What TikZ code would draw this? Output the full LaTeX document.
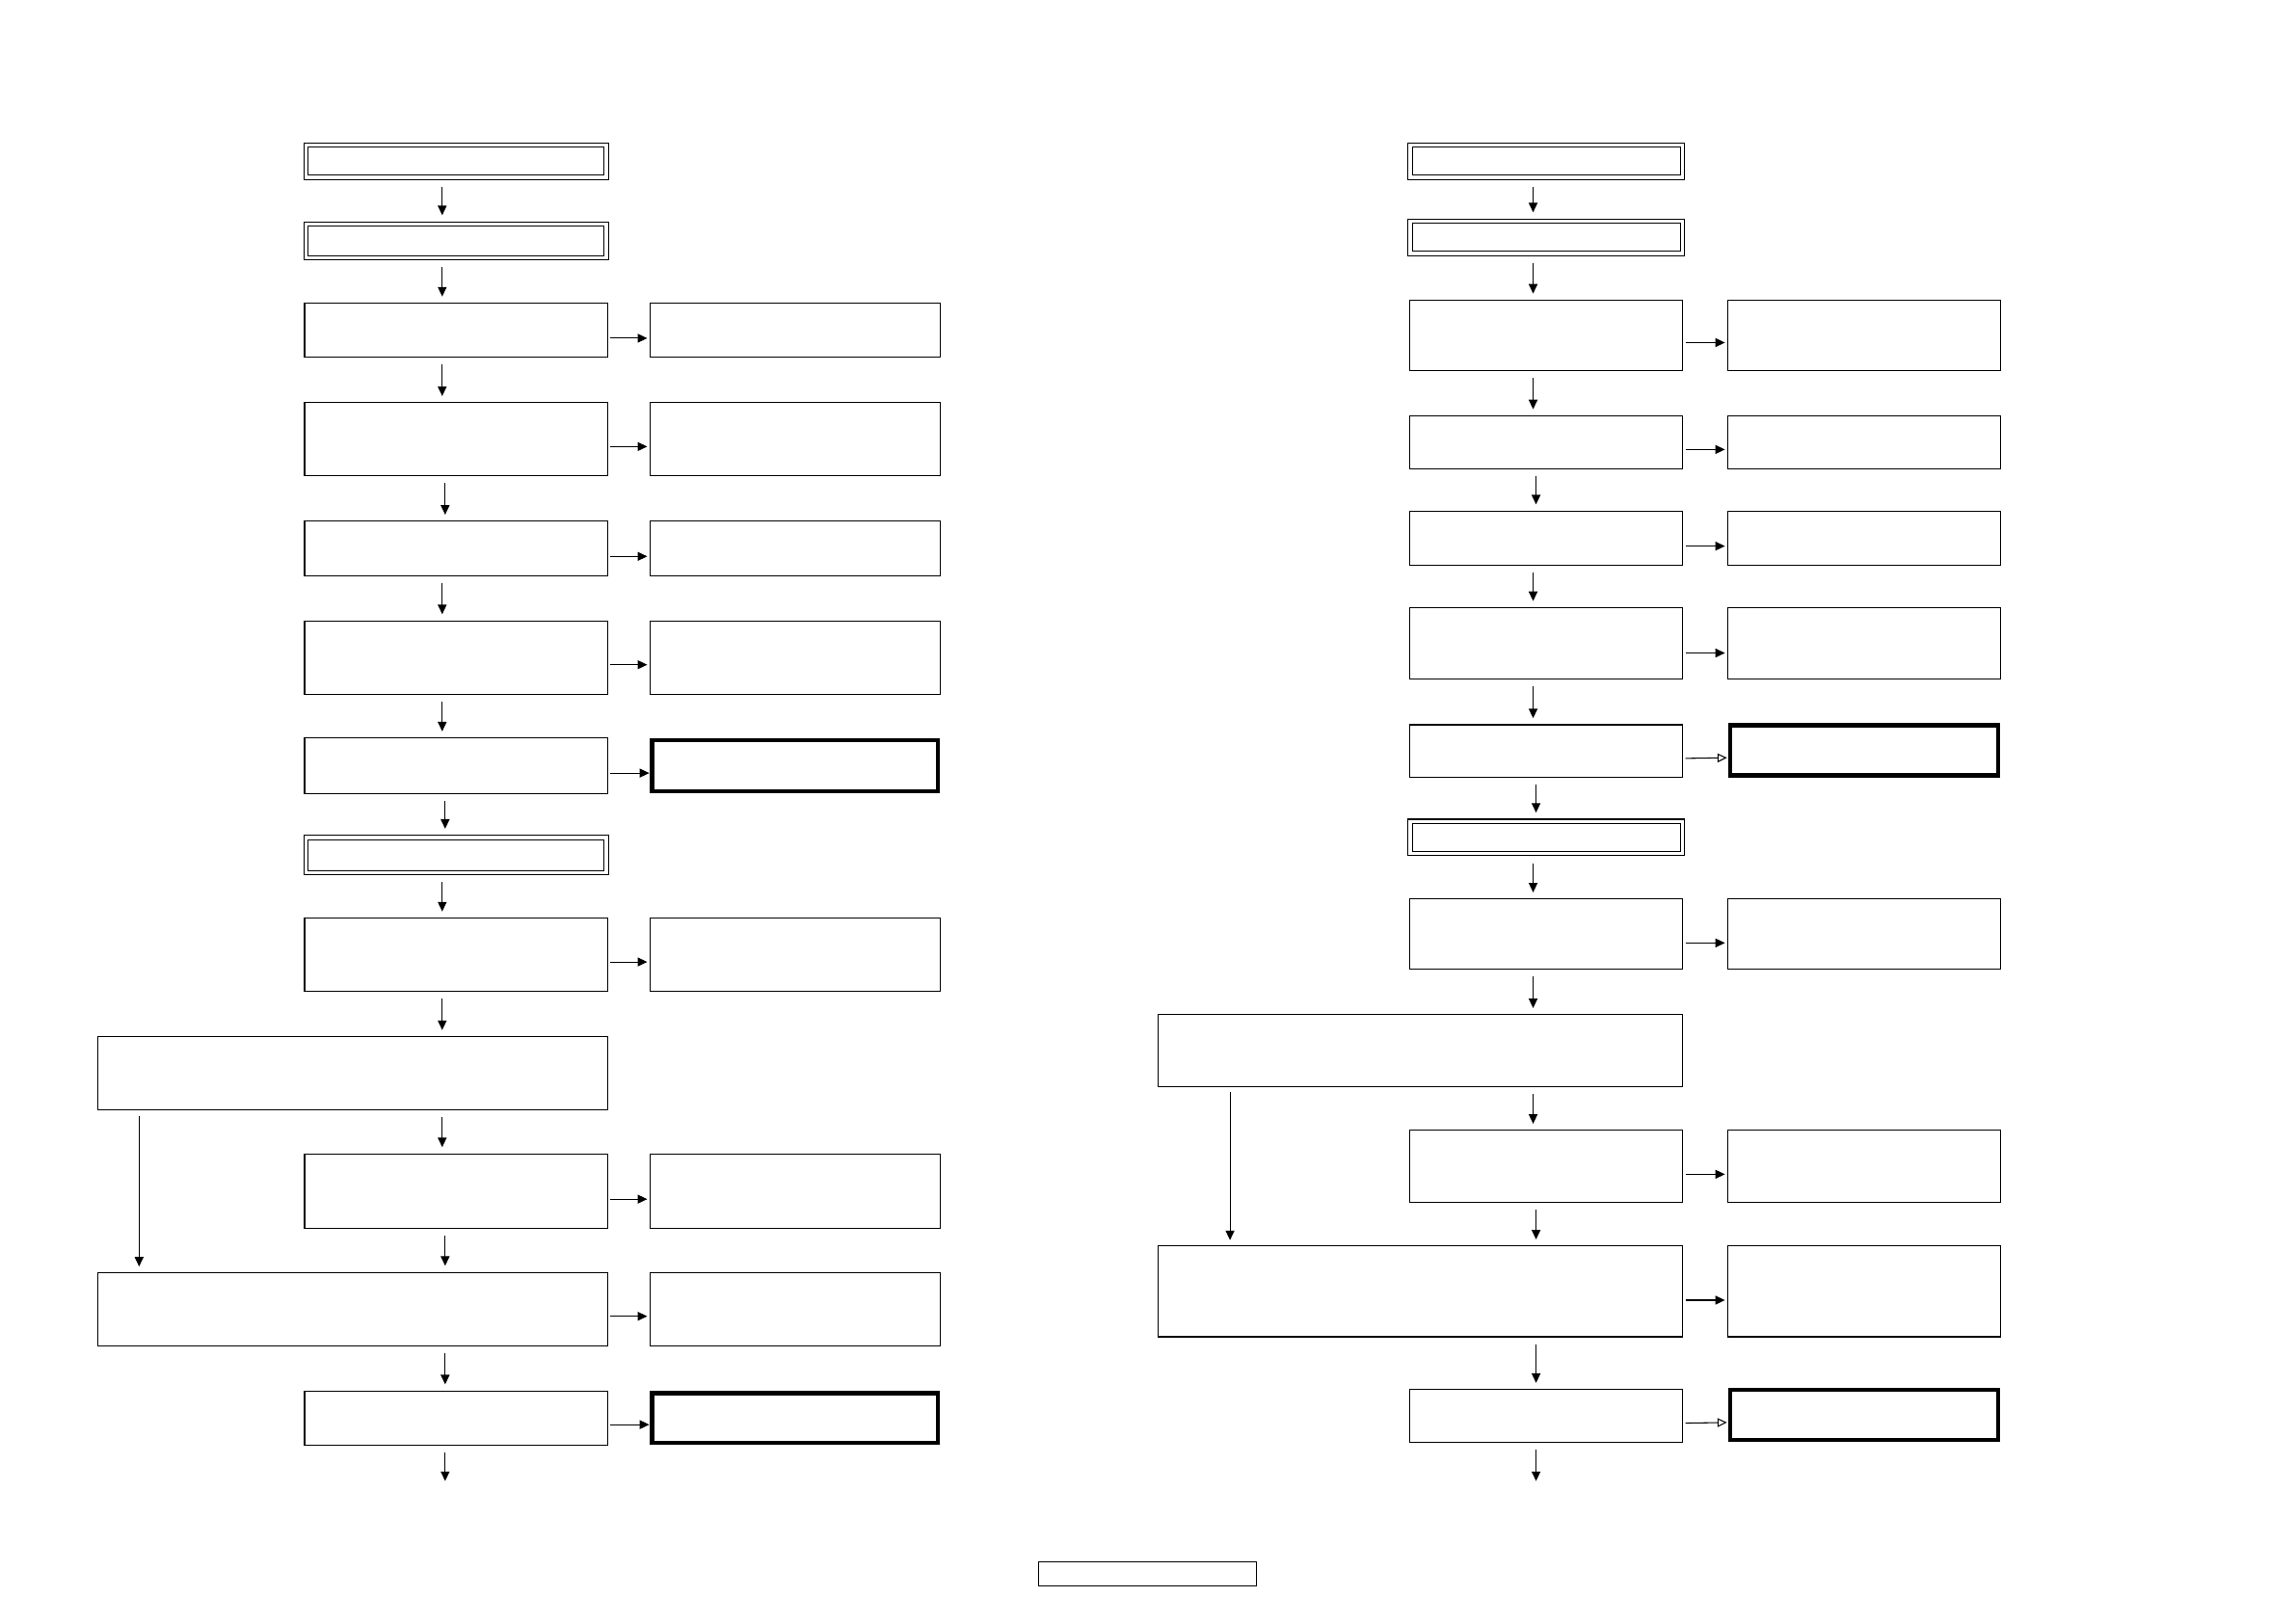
\documentclass[tikz,border=0pt]{standalone}
\usetikzlibrary{fit,arrows.meta}
\begin{document}
\begin{tikzpicture}[x=1pt,y=-1pt,
  box/.style={draw,line width=0.7pt,inner sep=0pt,outer sep=0pt},
  thickbox/.style={draw,line width=2.9pt,inner sep=0pt,outer sep=0pt},
  dbox/.style={draw,line width=0.7pt,inner sep=0pt,outer sep=0pt},
  varr/.style={line width=0.7pt,-{Triangle[length=6.5pt,width=6pt]},shorten <=5pt,shorten >=4.5pt},
  harr/.style={line width=0.7pt,-{Triangle[length=6.5pt,width=6pt]},shorten <=2pt,shorten >=2pt},
  oarr/.style={line width=0.7pt,-{Triangle[open,length=6.5pt,width=6pt]},shorten <=2pt,shorten >=2pt},
  larr/.style={line width=0.7pt,-{Triangle[length=6.5pt,width=6pt]},shorten <=4pt,shorten >=4pt}]
\useasboundingbox (0,0) rectangle (1568,1109);
\fill[white] (0,0) rectangle (1568,1109);

% ---------- left column ----------
\node[dbox,fit={(207.5,97.5) (415.5,122.5)}] (L1) {};
\draw[line width=0.7pt] ([shift={(3,3)}]L1.north west) rectangle ([shift={(-3,-3)}]L1.south east);
\node[dbox,fit={(207.5,151.5) (415.5,177.5)}] (L2) {};
\draw[line width=0.7pt] ([shift={(3,3)}]L2.north west) rectangle ([shift={(-3,-3)}]L2.south east);
\node[box,fit={(208,207) (415,244)}] (L3) {};
\node[box,fit={(444,207) (642,244)}] (R3) {};
\node[box,fit={(208,275) (415,325)}] (L4) {};
\node[box,fit={(444,275) (642,325)}] (R4) {};
\node[box,fit={(208,356) (415,393)}] (L5) {};
\node[box,fit={(444,356) (642,393)}] (R5) {};
\node[box,fit={(208,424) (415,474)}] (L6) {};
\node[box,fit={(444,424) (642,474)}] (R6) {};
\node[box,fit={(208,504) (415,542)}] (L7) {};
\node[thickbox,fit={(445.4,505.4) (640.6,540.6)}] (R7) {};
\node[dbox,fit={(207.5,570.5) (415.5,597.5)}] (L8) {};
\draw[line width=0.7pt] ([shift={(3,3)}]L8.north west) rectangle ([shift={(-3,-3)}]L8.south east);
\node[box,fit={(208,627) (415,677)}] (L9) {};
\node[box,fit={(444,627) (642,677)}] (R9) {};
\node[box,fit={(67,708) (415,758)}] (LW1) {};
\node[box,fit={(208,788) (415,839)}] (L10) {};
\node[box,fit={(444,788) (642,839)}] (R10) {};
\node[box,fit={(67,869) (415,919)}] (LW2) {};
\node[box,fit={(444,869) (642,919)}] (R11) {};
\node[box,fit={(208,950) (415,987)}] (L12) {};
\node[thickbox,fit={(445.4,951.4) (640.6,985.6)}] (R12) {};
\coordinate (Lend) at (304,1016);

\coordinate (La) at (302,0);
\coordinate (Lb) at (304,0);
\coordinate (Lz) at (95,0);

\draw[varr] (La |- L1.south) -- (La |- L2.north);
\draw[varr] (La |- L2.south) -- (La |- L3.north);
\draw[varr] (La |- L3.south) -- (La |- L4.north);
\draw[varr] (Lb |- L4.south) -- (Lb |- L5.north);
\draw[varr] (La |- L5.south) -- (La |- L6.north);
\draw[varr] (La |- L6.south) -- (La |- L7.north);
\draw[varr] (Lb |- L7.south) -- (Lb |- L8.north);
\draw[varr] (La |- L8.south) -- (La |- L9.north);
\draw[varr] (La |- L9.south) -- (La |- LW1.north);
\draw[varr] (La |- LW1.south) -- (La |- L10.north);
\draw[varr] (Lb |- L10.south) -- (Lb |- LW2.north);
\draw[varr] (Lb |- LW2.south) -- (Lb |- L12.north);
\draw[varr] (Lb |- L12.south) -- (Lend);
\draw[larr] (Lz |- LW1.south) -- (Lz |- LW2.north);

\draw[harr] ([yshift=-5.5pt]L3.east) -- ([yshift=-5.5pt]R3.west);
\draw[harr] ([yshift=-5pt]L4.east) -- ([yshift=-5pt]R4.west);
\draw[harr] ([yshift=-5.5pt]L5.east) -- ([yshift=-5.5pt]R5.west);
\draw[harr] ([yshift=-5pt]L6.east) -- ([yshift=-5pt]R6.west);
\draw[harr] ([yshift=-5pt]L7.east) -- ([yshift=-5pt]R7.west);
\draw[harr] ([yshift=-5pt]L9.east) -- ([yshift=-5pt]R9.west);
\draw[harr] ([yshift=-5.5pt]L10.east) -- ([yshift=-5.5pt]R10.west);
\draw[harr] ([yshift=-5pt]LW2.east) -- ([yshift=-5pt]R11.west);
\draw[harr] ([yshift=-4.5pt]L12.east) -- ([yshift=-4.5pt]R12.west);

% ---------- right column ----------
\node[dbox,fit={(961.5,97.5) (1150.5,122.5)}] (M1) {};
\draw[line width=0.7pt] ([shift={(3,3)}]M1.north west) rectangle ([shift={(-3,-3)}]M1.south east);
\node[dbox,fit={(961.5,149.5) (1150.5,174.5)}] (M2) {};
\draw[line width=0.7pt] ([shift={(3,3)}]M2.north west) rectangle ([shift={(-3,-3)}]M2.south east);
\node[box,fit={(963,205) (1149,253)}] (M3) {};
\node[box,fit={(1180,205) (1366,253)}] (S3) {};
\node[box,fit={(963,284) (1149,320)}] (M4) {};
\node[box,fit={(1180,284) (1366,320)}] (S4) {};
\node[box,fit={(963,349) (1149,386)}] (M5) {};
\node[box,fit={(1180,349) (1366,386)}] (S5) {};
\node[box,fit={(963,415) (1149,464)}] (M6) {};
\node[box,fit={(1180,415) (1366,464)}] (S6) {};
\node[box,fit={(963,495) (1149,531)}] (M7) {};
\node[thickbox,fit={(1181.4,495.4) (1364.6,529.6)}] (S7) {};
\node[dbox,fit={(961.5,559.5) (1150.5,584.5)}] (M8) {};
\draw[line width=0.7pt] ([shift={(3,3)}]M8.north west) rectangle ([shift={(-3,-3)}]M8.south east);
\node[box,fit={(963,614) (1149,662)}] (M9) {};
\node[box,fit={(1180,614) (1366,662)}] (S9) {};
\node[box,fit={(791,693) (1149,742)}] (MW1) {};
\node[box,fit={(963,772) (1149,821)}] (M10) {};
\node[box,fit={(1180,772) (1366,821)}] (S10) {};
\node[box,fit={(791,851) (1149,913)}] (MW2) {};
\node[box,fit={(1180,851) (1366,913)}] (S11) {};
\node[box,fit={(963,949) (1149,985)}] (M12) {};
\node[thickbox,fit={(1181.4,949.4) (1364.6,983.6)}] (S12) {};
\coordinate (Mend) at (1049,1016);

\coordinate (Ma) at (1047,0);
\coordinate (Mb) at (1049,0);
\coordinate (Mz) at (840,0);

\draw[varr] (Ma |- M1.south) -- (Ma |- M2.north);
\draw[varr] (Ma |- M2.south) -- (Ma |- M3.north);
\draw[varr] (Ma |- M3.south) -- (Ma |- M4.north);
\draw[varr] (Mb |- M4.south) -- (Mb |- M5.north);
\draw[varr] (Ma |- M5.south) -- (Ma |- M6.north);
\draw[varr] (Ma |- M6.south) -- (Ma |- M7.north);
\draw[varr] (Mb |- M7.south) -- (Mb |- M8.north);
\draw[varr] (Ma |- M8.south) -- (Ma |- M9.north);
\draw[varr] (Ma |- M9.south) -- (Ma |- MW1.north);
\draw[varr] (Ma |- MW1.south) -- (Ma |- M10.north);
\draw[varr] (Mb |- M10.south) -- (Mb |- MW2.north);
\draw[varr] (Mb |- MW2.south) -- (Mb |- M12.north);
\draw[varr] (Mb |- M12.south) -- (Mend);
\draw[larr] (Mz |- MW1.south) -- (Mz |- MW2.north);

\draw[harr] ([yshift=-5pt]M3.east) -- ([yshift=-5pt]S3.west);
\draw[harr] ([yshift=-5pt]M4.east) -- ([yshift=-5pt]S4.west);
\draw[harr] ([yshift=-5.5pt]M5.east) -- ([yshift=-5.5pt]S5.west);
\draw[harr] ([yshift=-6.5pt]M6.east) -- ([yshift=-6.5pt]S6.west);
\draw[oarr] ([yshift=-5pt]M7.east) -- ([yshift=-5pt]S7.west);
\draw[harr] ([yshift=-6pt]M9.east) -- ([yshift=-6pt]S9.west);
\draw[harr] ([yshift=-5.5pt]M10.east) -- ([yshift=-5.5pt]S10.west);
\draw[harr] ([yshift=-6pt]MW2.east) -- ([yshift=-6pt]S11.west);
\draw[oarr] ([yshift=-5pt]M12.east) -- ([yshift=-5pt]S12.west);

% ---------- page box ----------
\node[box,fit={(709,1067) (858,1083)}] (P) {};
\end{tikzpicture}
\end{document}
